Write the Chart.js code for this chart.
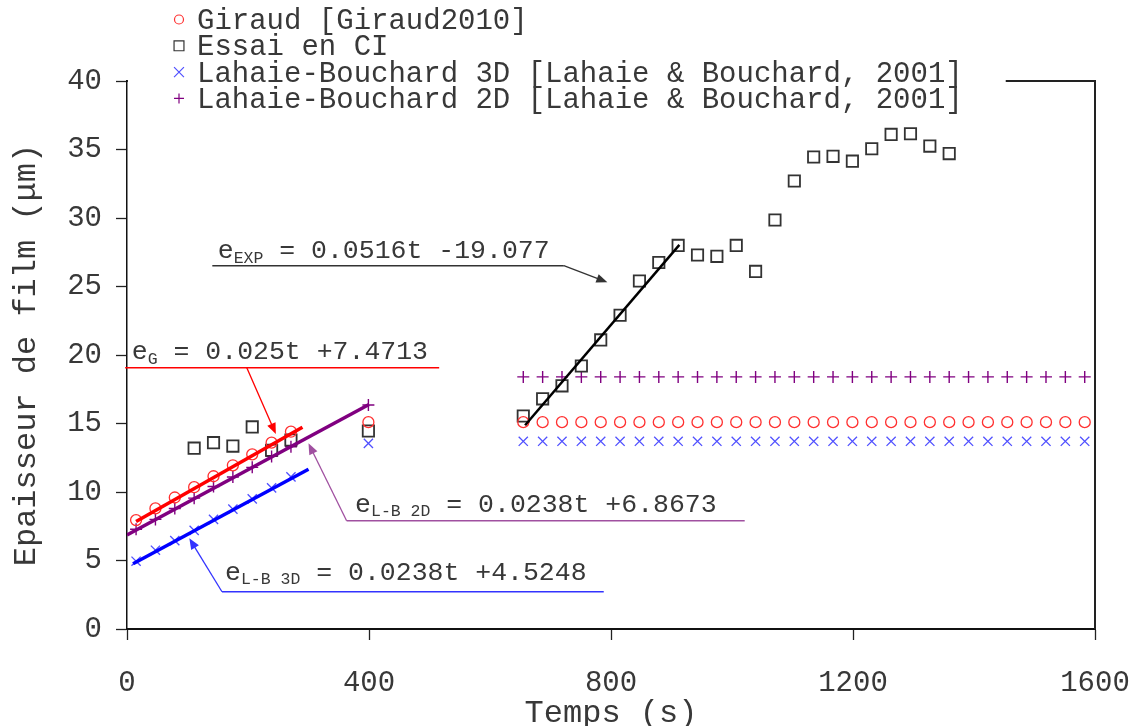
<!DOCTYPE html>
<html>
<head>
<meta charset="utf-8">
<title>Epaisseur de film</title>
<script src="https://cdn.jsdelivr.net/npm/chart.js@4.4.1/dist/chart.umd.min.js"></script>
<style>
  html, body { margin: 0; padding: 0; background: #fff; }
</style>
</head>
<body>
<canvas id="film" width="1141" height="726"></canvas>
<script>
/* ---------- measured thickness (µm) vs time (s) ---------- */
const tGiraud = [15, 47, 79, 111, 143, 175, 207, 239, 271, 399,
  655, 687, 719, 751, 783, 815, 847, 879, 911, 943, 975, 1007, 1039, 1071, 1103,
  1135, 1167, 1199, 1231, 1263, 1295, 1327, 1359, 1391, 1423, 1455, 1487, 1519, 1551, 1583];
const eGiraud = [7.95, 8.8, 9.6, 10.35, 11.15, 11.95, 12.75, 13.6, 14.4, 15.1,
  15.1, 15.1, 15.1, 15.1, 15.1, 15.1, 15.1, 15.1, 15.1, 15.1, 15.1, 15.1, 15.1, 15.1, 15.1,
  15.1, 15.1, 15.1, 15.1, 15.1, 15.1, 15.1, 15.1, 15.1, 15.1, 15.1, 15.1, 15.1, 15.1, 15.1];

const tEssai = [111, 143, 175, 207, 239, 271, 399,
  655, 687, 719, 751, 783, 815, 847, 879, 911, 943, 975, 1007, 1039, 1071, 1103,
  1135, 1167, 1199, 1231, 1263, 1295, 1327, 1359];
const eEssai = [13.2, 13.6, 13.35, 14.75, 13.05, 13.8, 14.45,
  15.55, 16.8, 17.75, 19.2, 21.1, 22.9, 25.4, 26.75, 28.0, 27.3, 27.2, 28.0, 26.1, 29.85, 32.7,
  34.45, 34.5, 34.15, 35.05, 36.1, 36.15, 35.25, 34.7];

const tLB = tGiraud;
const eLB3D = [4.95, 5.75, 6.45, 7.2, 8.0, 8.75, 9.5, 10.3, 11.1, 13.55,
  13.7, 13.7, 13.7, 13.7, 13.7, 13.7, 13.7, 13.7, 13.7, 13.7, 13.7, 13.7, 13.7, 13.7, 13.7,
  13.7, 13.7, 13.7, 13.7, 13.7, 13.7, 13.7, 13.7, 13.7, 13.7, 13.7, 13.7, 13.7, 13.7, 13.7];
const eLB2D = [7.28, 8.0, 8.8, 9.55, 10.4, 11.1, 11.8, 12.6, 13.3, 16.35,
  18.4, 18.4, 18.4, 18.4, 18.4, 18.4, 18.4, 18.4, 18.4, 18.4, 18.4, 18.4, 18.4, 18.4, 18.4,
  18.4, 18.4, 18.4, 18.4, 18.4, 18.4, 18.4, 18.4, 18.4, 18.4, 18.4, 18.4, 18.4, 18.4, 18.4];

/* ---------- linear fits e = slope*t + intercept ---------- */
const fitSub = ['EXP', 'G', 'L-B 2D', 'L-B 3D'];
const fitSlope = [0.0516, 0.025, 0.0238, 0.0238];
const fitIntercept = [-19.077, 7.4713, 6.8673, 4.5248];
const fitStart = [658, 15, 0, 10];
const fitEnd = [913, 290, 400, 300];

const xTicks = [0, 400, 800, 1200, 1600];
const yTicks = [0, 5, 10, 15, 20, 25, 30, 35, 40];

const seriesNames = [
  'Giraud [Giraud2010]',
  'Essai en CI',
  'Lahaie-Bouchard 3D [Lahaie & Bouchard, 2001]',
  'Lahaie-Bouchard 2D [Lahaie & Bouchard, 2001]'
];

const FONT = '"Liberation Mono", "Courier New", monospace';
const INK = '#383838';

const pts = (xs, ys) => xs.map((t, i) => ({ x: t, y: ys[i] }));
const fitPts = i => [fitStart[i], fitEnd[i]].map(t => ({ x: t, y: fitSlope[i] * t + fitIntercept[i] }));

const markers = [
  { style: 'circle',   color: '#ff3030', radius: 5.5, width: 1.3, legendRadius: 4.5 },
  { style: 'rect',     color: '#333333', radius: 8,   width: 1.8, legendRadius: 7 },
  { style: 'crossRot', color: '#5050ff', radius: 6.5, width: 1.3, legendRadius: 7 },
  { style: 'cross',    color: '#800080', radius: 6,   width: 1.4, legendRadius: 5 }
];
const fitColors = ['#000000', '#ff0000', '#800080', '#0000ff'];
const fitWidths = [2.5, 3.5, 3.5, 3.5];

// equation labels: text anchor, underline and arrow, in axis units
const eqLabels = [
  { fit: 0, color: '#333333', text: [150, 27.06], rule: [141, 722, 26.52], arrow: [722, 26.52, 794, 25.31] },
  { fit: 1, color: '#ff0000', text: [8, 19.69],   rule: [-3, 516, 19.07],  arrow: [198, 19.07, 246, 14.23] },
  { fit: 2, color: '#a050a0', text: [377, 8.56],  rule: [363, 1021, 7.9],  arrow: [363, 7.9, 300, 13.55] },
  { fit: 3, color: '#3333ff', text: [162, 3.58],  rule: [157, 788, 2.72],  arrow: [157, 2.72, 103, 6.62] }
];

function fmtFit(i) {
  const b = fitIntercept[i];
  return ' = ' + fitSlope[i] + 't ' + (b < 0 ? '-' + Math.abs(b) : '+' + b);
}

function arrow(ctx, x0, y0, x1, y1, color) {
  const ang = Math.atan2(y1 - y0, x1 - x0);
  const len = 11, half = 4.5;
  ctx.strokeStyle = color;
  ctx.fillStyle = color;
  ctx.lineWidth = 1.3;
  ctx.beginPath();
  ctx.moveTo(x0, y0);
  ctx.lineTo(x1 - Math.cos(ang) * len * 0.8, y1 - Math.sin(ang) * len * 0.8);
  ctx.stroke();
  ctx.beginPath();
  ctx.moveTo(x1, y1);
  ctx.lineTo(x1 - Math.cos(ang) * len + Math.sin(ang) * half, y1 - Math.sin(ang) * len - Math.cos(ang) * half);
  ctx.lineTo(x1 - Math.cos(ang) * len - Math.sin(ang) * half, y1 - Math.sin(ang) * len + Math.cos(ang) * half);
  ctx.closePath();
  ctx.fill();
}

/* ---------- frame, equations and legend ---------- */
const overlay = {
  id: 'overlay',
  afterDraw(chart) {
    const { ctx, chartArea: a } = chart;
    const xs = chart.scales.x, ys = chart.scales.y;
    ctx.save();

    // right and top edges of the box
    ctx.strokeStyle = '#222';
    ctx.lineWidth = 2;
    ctx.beginPath();
    ctx.moveTo(a.left, a.top);
    ctx.lineTo(a.right, a.top);
    ctx.lineTo(a.right, a.bottom);
    ctx.stroke();

    // fit equations
    eqLabels.forEach(lb => {
      const px = xs.getPixelForValue(lb.text[0]);
      const py = ys.getPixelForValue(lb.text[1]);
      ctx.fillStyle = INK;
      ctx.textAlign = 'left';
      ctx.textBaseline = 'alphabetic';
      ctx.font = '26.5px ' + FONT;
      ctx.fillText('e', px, py);
      let cx = px + ctx.measureText('e').width;
      ctx.font = '16.5px ' + FONT;
      ctx.fillText(fitSub[lb.fit], cx, py + 4.5);
      cx += ctx.measureText(fitSub[lb.fit]).width;
      ctx.font = '26.5px ' + FONT;
      ctx.fillText(fmtFit(lb.fit), cx, py);

      const ry = ys.getPixelForValue(lb.rule[2]);
      ctx.strokeStyle = lb.color;
      ctx.lineWidth = 1.5;
      ctx.beginPath();
      ctx.moveTo(xs.getPixelForValue(lb.rule[0]), ry);
      ctx.lineTo(xs.getPixelForValue(lb.rule[1]), ry);
      ctx.stroke();

      arrow(ctx,
        xs.getPixelForValue(lb.arrow[0]), ys.getPixelForValue(lb.arrow[1]),
        xs.getPixelForValue(lb.arrow[2]), ys.getPixelForValue(lb.arrow[3]),
        lb.color);
    });

    // legend block sits over the top edge
    ctx.font = '29px ' + FONT;
    const textX = a.left + 70;
    const textW = Math.max(...seriesNames.map(n => ctx.measureText(n).width));
    ctx.fillStyle = '#fff';
    ctx.fillRect(a.left + 1, 0, textX + textW + 43 - a.left - 1, a.top + 3);

    seriesNames.forEach((name, i) => {
      const base = 29 + i * 26.3;
      const m = markers[i];
      ctx.strokeStyle = m.color;
      ctx.fillStyle = 'transparent';
      ctx.lineWidth = 1.2;
      Chart.helpers.drawPoint(ctx, { pointStyle: m.style, radius: m.legendRadius, rotation: 0, borderWidth: 1.2 },
        a.left + 52, base - 9.5);
      ctx.fillStyle = INK;
      ctx.font = '29px ' + FONT;
      ctx.fillText(name, textX, base);
    });

    ctx.restore();
  }
};

const datasets = [];
[[tGiraud, eGiraud], [tEssai, eEssai], [tLB, eLB3D], [tLB, eLB2D]].forEach(([ts, es], i) => {
  const m = markers[i];
  datasets.push({
    label: seriesNames[i],
    data: pts(ts, es),
    pointStyle: m.style,
    pointRadius: m.radius,
    pointBorderColor: m.color,
    pointBackgroundColor: 'transparent',
    pointBorderWidth: m.width,
    showLine: false,
    order: 2
  });
});
fitSub.forEach((s, i) => {
  datasets.push({
    label: 'e ' + s,
    data: fitPts(i),
    showLine: true,
    pointRadius: 0,
    borderColor: fitColors[i],
    borderWidth: fitWidths[i],
    order: 1
  });
});

new Chart(document.getElementById('film'), {
  type: 'scatter',
  data: { datasets },
  options: {
    responsive: false,
    animation: false,
    layout: { padding: { top: 81, right: 46, left: 0, bottom: 0 } },
    plugins: { legend: { display: false }, tooltip: { enabled: false } },
    scales: {
      x: {
        type: 'linear', min: 0, max: 1600,
        afterBuildTicks: s => { s.ticks = xTicks.map(v => ({ value: v })); },
        ticks: { color: INK, font: { family: FONT, size: 29 }, padding: 26, maxRotation: 0, callback: v => String(v) },
        grid: { drawOnChartArea: false, tickLength: 11, tickColor: '#222', tickWidth: 1.3 },
        border: { color: '#111', width: 2 },
        title: { display: true, text: 'Temps (s)', color: INK, font: { family: FONT, size: 32, lineHeight: 0.8 }, padding: 0 },
        afterFit: s => { s.height = 97; s.paddingLeft = 0; s.paddingRight = 0; }
      },
      y: {
        type: 'linear', min: 0, max: 40,
        afterBuildTicks: s => { s.ticks = yTicks.map(v => ({ value: v })); },
        ticks: { color: INK, font: { family: FONT, size: 29 }, padding: 14, callback: v => String(v) },
        grid: { drawOnChartArea: false, tickLength: 11, tickColor: '#222', tickWidth: 1.3 },
        border: { color: '#111', width: 1.5 },
        title: { display: true, text: 'Epaisseur de film (μm)', color: INK, font: { family: FONT, size: 32 }, padding: { top: 7, bottom: 0 } },
        afterFit: s => { s.width = 127; s.paddingTop = 0; s.paddingBottom = 0; }
      }
    }
  },
  plugins: [overlay]
});
</script>
</body>
</html>
